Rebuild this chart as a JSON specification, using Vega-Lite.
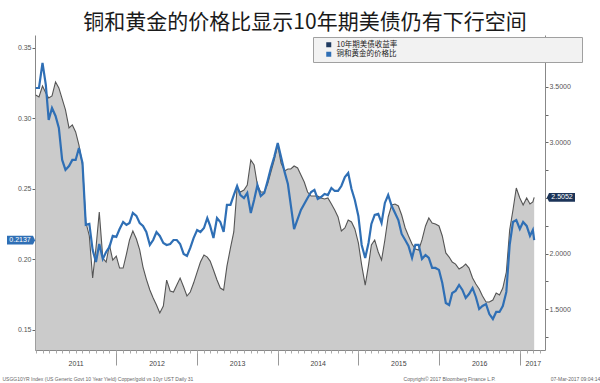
{
  "$schema": "https://vega.github.io/schema/vega-lite/v6.json",
  "width": 510,
  "height": 315,
  "autosize": {"type": "none"},
  "padding": {"left": 35, "top": 35, "right": 55, "bottom": 33},
  "background": "white",
  "config": {"view": {"stroke": null}},
  "title": {
    "text": "铜和黄金的价格比显示10年期美债仍有下行空间",
    "font": "Noto Sans CJK SC",
    "fontSize": 21,
    "fontWeight": "normal",
    "color": "#1a1a1a",
    "anchor": "middle",
    "dx": 15,
    "offset": 2
  },
  "datasets": {
    "main": [
      {"date": "2011-01-01", "cg": 0.3216, "yld": 3.428},
      {"date": "2011-01-16", "cg": 0.3216, "yld": 3.410},
      {"date": "2011-02-01", "cg": 0.3394, "yld": 3.509},
      {"date": "2011-02-16", "cg": 0.3238, "yld": 3.446},
      {"date": "2011-03-01", "cg": 0.2989, "yld": 3.401},
      {"date": "2011-03-16", "cg": 0.3074, "yld": 3.419},
      {"date": "2011-04-01", "cg": 0.3018, "yld": 3.545},
      {"date": "2011-04-16", "cg": 0.2933, "yld": 3.491},
      {"date": "2011-05-01", "cg": 0.2706, "yld": 3.392},
      {"date": "2011-05-16", "cg": 0.2635, "yld": 3.293},
      {"date": "2011-06-01", "cg": 0.2663, "yld": 3.131},
      {"date": "2011-06-16", "cg": 0.2706, "yld": 3.158},
      {"date": "2011-07-01", "cg": 0.2706, "yld": 3.095},
      {"date": "2011-07-16", "cg": 0.2791, "yld": 2.977},
      {"date": "2011-08-01", "cg": 0.2684, "yld": 2.797},
      {"date": "2011-08-16", "cg": 0.2245, "yld": 2.284},
      {"date": "2011-09-01", "cg": 0.2252, "yld": 2.158},
      {"date": "2011-09-16", "cg": 0.2067, "yld": 1.779},
      {"date": "2011-10-01", "cg": 0.1982, "yld": 2.050},
      {"date": "2011-10-16", "cg": 0.2110, "yld": 2.374},
      {"date": "2011-11-01", "cg": 0.2004, "yld": 1.959},
      {"date": "2011-11-16", "cg": 0.2053, "yld": 1.923},
      {"date": "2011-12-01", "cg": 0.2089, "yld": 2.077},
      {"date": "2011-12-16", "cg": 0.2167, "yld": 1.941},
      {"date": "2012-01-01", "cg": 0.2160, "yld": 1.977},
      {"date": "2012-01-16", "cg": 0.2216, "yld": 1.869},
      {"date": "2012-02-01", "cg": 0.2266, "yld": 1.869},
      {"date": "2012-02-16", "cg": 0.2245, "yld": 1.995},
      {"date": "2012-03-01", "cg": 0.2259, "yld": 2.122},
      {"date": "2012-03-16", "cg": 0.2330, "yld": 2.203},
      {"date": "2012-04-01", "cg": 0.2309, "yld": 2.131},
      {"date": "2012-04-16", "cg": 0.2259, "yld": 2.032},
      {"date": "2012-05-01", "cg": 0.2238, "yld": 1.878},
      {"date": "2012-05-16", "cg": 0.2195, "yld": 1.770},
      {"date": "2012-06-01", "cg": 0.2103, "yld": 1.671},
      {"date": "2012-06-16", "cg": 0.2138, "yld": 1.599},
      {"date": "2012-07-01", "cg": 0.2195, "yld": 1.536},
      {"date": "2012-07-16", "cg": 0.2167, "yld": 1.464},
      {"date": "2012-08-01", "cg": 0.2117, "yld": 1.527},
      {"date": "2012-08-16", "cg": 0.2103, "yld": 1.761},
      {"date": "2012-09-01", "cg": 0.2110, "yld": 1.662},
      {"date": "2012-09-16", "cg": 0.2138, "yld": 1.653},
      {"date": "2012-10-01", "cg": 0.2138, "yld": 1.716},
      {"date": "2012-10-16", "cg": 0.2110, "yld": 1.779},
      {"date": "2012-11-01", "cg": 0.2039, "yld": 1.698},
      {"date": "2012-11-16", "cg": 0.2025, "yld": 1.617},
      {"date": "2012-12-01", "cg": 0.2082, "yld": 1.653},
      {"date": "2012-12-16", "cg": 0.2152, "yld": 1.734},
      {"date": "2013-01-01", "cg": 0.2209, "yld": 1.833},
      {"date": "2013-01-16", "cg": 0.2195, "yld": 1.923},
      {"date": "2013-02-01", "cg": 0.2223, "yld": 1.986},
      {"date": "2013-02-16", "cg": 0.2294, "yld": 1.968},
      {"date": "2013-03-01", "cg": 0.2238, "yld": 1.932},
      {"date": "2013-03-16", "cg": 0.2152, "yld": 1.851},
      {"date": "2013-04-01", "cg": 0.2294, "yld": 1.761},
      {"date": "2013-04-16", "cg": 0.2266, "yld": 1.689},
      {"date": "2013-05-01", "cg": 0.2195, "yld": 1.671},
      {"date": "2013-05-16", "cg": 0.2387, "yld": 1.887},
      {"date": "2013-06-01", "cg": 0.2387, "yld": 2.050},
      {"date": "2013-06-16", "cg": 0.2457, "yld": 2.194},
      {"date": "2013-07-01", "cg": 0.2521, "yld": 2.590},
      {"date": "2013-07-16", "cg": 0.2457, "yld": 2.554},
      {"date": "2013-08-01", "cg": 0.2436, "yld": 2.572},
      {"date": "2013-08-16", "cg": 0.2472, "yld": 2.617},
      {"date": "2013-09-01", "cg": 0.2330, "yld": 2.842},
      {"date": "2013-09-16", "cg": 0.2422, "yld": 2.797},
      {"date": "2013-10-01", "cg": 0.2528, "yld": 2.617},
      {"date": "2013-10-16", "cg": 0.2450, "yld": 2.554},
      {"date": "2013-11-01", "cg": 0.2472, "yld": 2.554},
      {"date": "2013-11-16", "cg": 0.2557, "yld": 2.626},
      {"date": "2013-12-01", "cg": 0.2649, "yld": 2.734},
      {"date": "2013-12-16", "cg": 0.2727, "yld": 2.842},
      {"date": "2014-01-01", "cg": 0.2826, "yld": 2.977},
      {"date": "2014-01-16", "cg": 0.2727, "yld": 2.815},
      {"date": "2014-02-01", "cg": 0.2621, "yld": 2.743},
      {"date": "2014-02-16", "cg": 0.2535, "yld": 2.761},
      {"date": "2014-03-01", "cg": 0.2387, "yld": 2.761},
      {"date": "2014-03-16", "cg": 0.2216, "yld": 2.788},
      {"date": "2014-04-01", "cg": 0.2287, "yld": 2.770},
      {"date": "2014-04-16", "cg": 0.2351, "yld": 2.707},
      {"date": "2014-05-01", "cg": 0.2394, "yld": 2.644},
      {"date": "2014-05-16", "cg": 0.2436, "yld": 2.554},
      {"date": "2014-06-01", "cg": 0.2479, "yld": 2.518},
      {"date": "2014-06-16", "cg": 0.2493, "yld": 2.518},
      {"date": "2014-07-01", "cg": 0.2429, "yld": 2.518},
      {"date": "2014-07-16", "cg": 0.2443, "yld": 2.500},
      {"date": "2014-08-01", "cg": 0.2465, "yld": 2.491},
      {"date": "2014-08-16", "cg": 0.2457, "yld": 2.500},
      {"date": "2014-09-01", "cg": 0.2507, "yld": 2.446},
      {"date": "2014-09-16", "cg": 0.2486, "yld": 2.392},
      {"date": "2014-10-01", "cg": 0.2486, "yld": 2.329},
      {"date": "2014-10-16", "cg": 0.2521, "yld": 2.203},
      {"date": "2014-11-01", "cg": 0.2585, "yld": 2.230},
      {"date": "2014-11-16", "cg": 0.2613, "yld": 2.302},
      {"date": "2014-12-01", "cg": 0.2500, "yld": 2.284},
      {"date": "2014-12-16", "cg": 0.2422, "yld": 2.221},
      {"date": "2015-01-01", "cg": 0.2309, "yld": 2.095},
      {"date": "2015-01-16", "cg": 0.2103, "yld": 1.896},
      {"date": "2015-02-01", "cg": 0.2011, "yld": 1.716},
      {"date": "2015-02-16", "cg": 0.2117, "yld": 1.896},
      {"date": "2015-03-01", "cg": 0.2252, "yld": 2.077},
      {"date": "2015-03-16", "cg": 0.2316, "yld": 2.122},
      {"date": "2015-04-01", "cg": 0.2323, "yld": 2.014},
      {"date": "2015-04-16", "cg": 0.2259, "yld": 1.941},
      {"date": "2015-05-01", "cg": 0.2401, "yld": 2.122},
      {"date": "2015-05-16", "cg": 0.2457, "yld": 2.329},
      {"date": "2015-06-01", "cg": 0.2379, "yld": 2.437},
      {"date": "2015-06-16", "cg": 0.2330, "yld": 2.446},
      {"date": "2015-07-01", "cg": 0.2280, "yld": 2.428},
      {"date": "2015-07-16", "cg": 0.2181, "yld": 2.347},
      {"date": "2015-08-01", "cg": 0.2138, "yld": 2.230},
      {"date": "2015-08-16", "cg": 0.2096, "yld": 2.158},
      {"date": "2015-09-01", "cg": 0.2011, "yld": 2.086},
      {"date": "2015-09-16", "cg": 0.2103, "yld": 2.041},
      {"date": "2015-10-01", "cg": 0.2103, "yld": 2.032},
      {"date": "2015-10-16", "cg": 0.2004, "yld": 2.122},
      {"date": "2015-11-01", "cg": 0.2032, "yld": 2.248},
      {"date": "2015-11-16", "cg": 0.2011, "yld": 2.320},
      {"date": "2015-12-01", "cg": 0.1940, "yld": 2.275},
      {"date": "2015-12-16", "cg": 0.1940, "yld": 2.266},
      {"date": "2016-01-01", "cg": 0.1926, "yld": 2.248},
      {"date": "2016-01-16", "cg": 0.1833, "yld": 2.158},
      {"date": "2016-02-01", "cg": 0.1691, "yld": 2.005},
      {"date": "2016-02-16", "cg": 0.1677, "yld": 1.968},
      {"date": "2016-03-01", "cg": 0.1762, "yld": 1.923},
      {"date": "2016-03-16", "cg": 0.1777, "yld": 1.905},
      {"date": "2016-04-01", "cg": 0.1819, "yld": 1.860},
      {"date": "2016-04-16", "cg": 0.1784, "yld": 1.878},
      {"date": "2016-05-01", "cg": 0.1727, "yld": 1.905},
      {"date": "2016-05-16", "cg": 0.1755, "yld": 1.869},
      {"date": "2016-06-01", "cg": 0.1798, "yld": 1.779},
      {"date": "2016-06-16", "cg": 0.1734, "yld": 1.725},
      {"date": "2016-07-01", "cg": 0.1649, "yld": 1.680},
      {"date": "2016-07-16", "cg": 0.1670, "yld": 1.617},
      {"date": "2016-08-01", "cg": 0.1684, "yld": 1.563},
      {"date": "2016-08-16", "cg": 0.1613, "yld": 1.563},
      {"date": "2016-09-01", "cg": 0.1578, "yld": 1.581},
      {"date": "2016-09-16", "cg": 0.1628, "yld": 1.644},
      {"date": "2016-10-01", "cg": 0.1628, "yld": 1.626},
      {"date": "2016-10-16", "cg": 0.1670, "yld": 1.689},
      {"date": "2016-11-01", "cg": 0.1770, "yld": 1.833},
      {"date": "2016-11-16", "cg": 0.2103, "yld": 2.212},
      {"date": "2016-12-01", "cg": 0.2266, "yld": 2.392},
      {"date": "2016-12-16", "cg": 0.2280, "yld": 2.590},
      {"date": "2017-01-01", "cg": 0.2216, "yld": 2.500},
      {"date": "2017-01-16", "cg": 0.2266, "yld": 2.437},
      {"date": "2017-02-01", "cg": 0.2238, "yld": 2.500},
      {"date": "2017-02-16", "cg": 0.2167, "yld": 2.446},
      {"date": "2017-03-01", "cg": 0.2209, "yld": 2.464},
      {"date": "2017-03-07", "cg": 0.2137, "yld": 2.5052}
    ],
    "last": [{"date": "2017-03-07", "cg": 0.2137, "yld": 2.5052}]
  },
  "data": {"name": "main"},
  "resolve": {"scale": {"y": "independent"}, "axis": {"x": "independent"}},
  "layer": [
    {
      "mark": {"type": "area", "color": "#cbcbcb", "opacity": 1, "clip": true},
      "encoding": {
        "x": {
          "field": "date", "type": "temporal",
          "scale": {"domain": [{"year": 2010, "month": 12, "date": 29}, {"year": 2017, "month": 4, "date": 25}]},
          "axis": {
            "orient": "bottom",
            "values": [
              {"year": 2012, "month": 1, "date": 1},
              {"year": 2013, "month": 1, "date": 1},
              {"year": 2014, "month": 1, "date": 1},
              {"year": 2015, "month": 1, "date": 1},
              {"year": 2016, "month": 1, "date": 1},
              {"year": 2017, "month": 1, "date": 1}
            ],
            "labels": false, "tickSize": 15, "tickColor": "#999", "domainColor": "#888", "grid": false,
            "title": "Copyright© 2017 Bloomberg Finance L.P.",
            "titleFont": "Liberation Sans", "titleFontSize": 5, "titleFontWeight": "normal", "titleColor": "#666",
            "titleX": 414, "titleY": 28, "titleAlign": "center", "titleBaseline": "middle"
          }
        },
        "y": {
          "field": "yld", "type": "quantitative",
          "scale": {"domain": [1.131, 3.968], "zero": false, "nice": false},
          "axis": {
            "orient": "right",
            "values": [1.25, 1.5, 1.75, 2, 2.25, 2.5, 2.75, 3, 3.25, 3.5, 3.75],
            "labelExpr": "(datum.value * 2) % 1 == 0 && datum.value != 2.5 ? format(datum.value, '.4f') : ''",
            "labelFont": "Liberation Sans", "labelFontSize": 7, "labelColor": "#555",
            "tickSize": 3, "tickColor": "#666", "domainColor": "#888", "labelPadding": 1, "grid": false,
            "title": "07-Mar-2017 09:04:14",
            "titleFont": "Liberation Sans", "titleFontSize": 5, "titleFontWeight": "normal", "titleColor": "#666",
            "titleAngle": 0, "titleX": 30, "titleY": 343, "titleAlign": "center", "titleBaseline": "middle"
          }
        },
        "y2": {"datum": 1.131}
      }
    },
    {
      "mark": {"type": "line", "strokeWidth": 1.1, "clip": true},
      "encoding": {
        "x": {"field": "date", "type": "temporal", "axis": null},
        "y": {"field": "yld", "type": "quantitative", "scale": {"domain": [1.131, 3.968], "zero": false, "nice": false}, "axis": null},
        "color": {
          "datum": "10年期美债收益率",
          "scale": {"domain": ["10年期美债收益率", "铜和黄金的价格比"], "range": ["#555555", "#2f6fb5"]},
          "legend": {
            "orient": "none", "legendX": 278, "legendY": 2, "direction": "vertical",
            "title": null, "fillColor": "#f2f2f2", "strokeColor": "#a0a0a0", "padding": 4,
            "symbolType": "square", "symbolSize": 25, "symbolStrokeWidth": 0, "symbolOffset": 8,
            "labelFont": "Noto Sans CJK SC", "labelFontSize": 7.5, "labelColor": "#222", "labelOffset": 4,
            "rowPadding": 0.5, "labelLimit": 400,
            "labelExpr": "datum.label + '⠀⠀⠀⠀⠀⠀⠀⠀⠀⠀⠀⠀⠀⠀⠀⠀⠀⠀⠀⠀⠀⠀⠀⠀⠀⠀⠀⠀⠀⠀'",
            "encode": {
              "symbols": {
                "update": {
                  "fill": {"signal": "datum.value === '10年期美债收益率' ? '#1f3a5f' : '#2f6fb5'"},
                  "stroke": {"signal": "datum.value === '10年期美债收益率' ? '#1f3a5f' : '#2f6fb5'"},
                  "opacity": {"value": 1}
                }
              }
            }
          }
        }
      }
    },
    {
      "mark": {"type": "line", "strokeWidth": 2.2, "clip": true},
      "encoding": {
        "x": {
          "field": "date", "type": "temporal",
          "axis": {
            "orient": "bottom",
            "tickCount": {"interval": "month", "step": 1},
            "labelExpr": "month(datum.value) == 6 || (year(datum.value) == 2017 && month(datum.value) == 2) ? timeFormat(datum.value, '%Y') : ''",
            "labelFont": "Liberation Sans", "labelFontSize": 7, "labelColor": "#444",
            "labelOverlap": false, "labelFlush": false, "labelBound": false,
            "tickSize": 3, "tickColor": "#aaa", "domain": false, "grid": false, "labelPadding": 6,
            "title": null
          }
        },
        "y": {
          "field": "cg", "type": "quantitative",
          "scale": {"domain": [0.1358, 0.3592], "zero": false, "nice": false},
          "axis": {
            "orient": "left",
            "values": [0.15, 0.2, 0.25, 0.3, 0.35],
            "format": ".2f",
            "labelFont": "Liberation Sans", "labelFontSize": 7, "labelColor": "#555",
            "tickSize": 3, "tickColor": "#666", "domainColor": "#888", "labelPadding": 1, "grid": false,
            "title": "USGG10YR Index (US Generic Govt 10 Year Yield) Copper/gold vs 10yr UST  Daily 31",
            "titleFont": "Liberation Sans", "titleFontSize": 5, "titleFontWeight": "normal", "titleColor": "#666",
            "titleAngle": 0, "titleX": -33, "titleY": 343, "titleAlign": "left", "titleBaseline": "middle"
          }
        },
        "color": {"datum": "铜和黄金的价格比"}
      }
    },
    {
      "data": {"name": "last"},
      "mark": {"type": "point", "shape": "M-1,-0.34L1,-0.34L1.16,0L1,0.34L-1,0.34Z", "filled": true, "fill": "#2f6fb5", "opacity": 1, "size": 676, "xOffset": -15},
      "encoding": {
        "x": {"datum": {"year": 2010, "month": 12, "date": 29}, "type": "temporal", "axis": null},
        "y": {"field": "cg", "type": "quantitative", "scale": {"domain": [0.1358, 0.3592], "zero": false, "nice": false}, "axis": null}
      }
    },
    {
      "data": {"name": "last"},
      "mark": {"type": "text", "color": "white", "font": "Liberation Sans", "fontSize": 7, "xOffset": -15, "align": "center", "baseline": "middle"},
      "encoding": {
        "x": {"datum": {"year": 2010, "month": 12, "date": 29}, "type": "temporal", "axis": null},
        "y": {"field": "cg", "type": "quantitative", "scale": {"domain": [0.1358, 0.3592], "zero": false, "nice": false}, "axis": null},
        "text": {"field": "cg", "type": "quantitative", "format": ".4f"}
      }
    },
    {
      "data": {"name": "last"},
      "mark": {"type": "point", "shape": "M-1,-0.34L1,-0.34L1,0.34L-1,0.34L-1.16,0Z", "filled": true, "fill": "#1c3458", "opacity": 1, "size": 676, "xOffset": 17},
      "encoding": {
        "x": {"datum": {"year": 2017, "month": 4, "date": 25}, "type": "temporal", "axis": null},
        "y": {"field": "yld", "type": "quantitative", "scale": {"domain": [1.131, 3.968], "zero": false, "nice": false}, "axis": null}
      }
    },
    {
      "data": {"name": "last"},
      "mark": {"type": "text", "color": "white", "font": "Liberation Sans", "fontSize": 7, "xOffset": 17, "align": "center", "baseline": "middle"},
      "encoding": {
        "x": {"datum": {"year": 2017, "month": 4, "date": 25}, "type": "temporal", "axis": null},
        "y": {"field": "yld", "type": "quantitative", "scale": {"domain": [1.131, 3.968], "zero": false, "nice": false}, "axis": null},
        "text": {"field": "yld", "type": "quantitative", "format": ".4f"}
      }
    }
  ]
}
